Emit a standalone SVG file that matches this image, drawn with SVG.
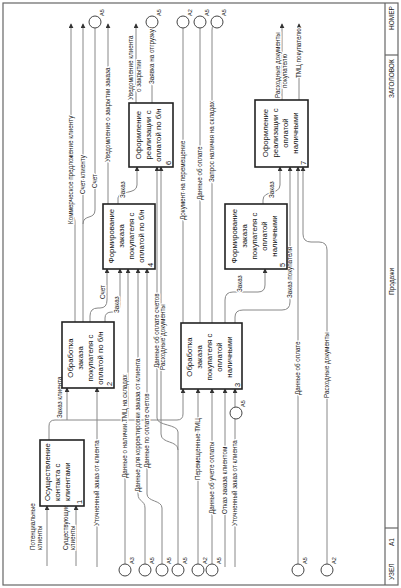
<svg xmlns="http://www.w3.org/2000/svg" width="401" height="588" viewBox="0 0 401 588">
<defs>
<marker id="ar" viewBox="0 0 6 6" refX="5" refY="3" markerWidth="5" markerHeight="5" orient="auto"><path d="M0,0 L6,3 L0,6 z" fill="#333"/></marker>
<style>
.frame{fill:none;stroke:#666;stroke-width:1.2}
.box{fill:#fff;stroke:#222;stroke-width:1.6}
.c{fill:none;stroke:#888;stroke-width:1}
.a{marker-end:url(#ar)}
.tun{fill:#fff;stroke:#444;stroke-width:1}
.bt{font-family:"Liberation Sans",Arial,sans-serif;font-size:7.8px;fill:#111}
.num{font-family:"Liberation Sans",Arial,sans-serif;font-size:7.5px;fill:#111}
.lb{font-family:"Liberation Sans",Arial,sans-serif;font-size:6.3px;fill:#222;stroke:#fff;stroke-width:2.5px;paint-order:stroke}
.ft{font-family:"Liberation Sans",Arial,sans-serif;font-size:6.5px;fill:#222}
.tl{font-family:"Liberation Sans",Arial,sans-serif;font-size:5.5px;fill:#222}
</style>
</defs>
<rect width="401" height="588" fill="#fff"/>
<g id="frame">
<rect class="frame" x="3" y="3" width="395" height="582"/>
<line class="frame" x1="385" y1="3" x2="385" y2="585"/>
<line class="frame" x1="385" y1="55" x2="398" y2="55"/>
<line class="frame" x1="385" y1="528" x2="398" y2="528"/>
<text class="ft" transform="translate(394,30) rotate(-90)">НОМЕР</text>
<text class="ft" transform="translate(394,98) rotate(-90)">ЗАГОЛОВОК</text>
<text class="ft" transform="translate(394,295) rotate(-90)">Продажи</text>
<text class="ft" transform="translate(394,546) rotate(-90)">A1</text>
<text class="ft" transform="translate(394,580) rotate(-90)">УЗЕЛ</text>
</g>
<g id="connectors">
<path class="c a" d="M47,566 V506"/>
<path class="c a" d="M76,566 V506"/>
<path class="c a" d="M49,440 V426 Q49,420 55,420 H177 Q183,420 183,414 V389"/>
<path class="c a" d="M67,420 V388"/>
<path class="c a" d="M97,567 V388"/>
<path class="c a" d="M75,322 V222 C75,216 71,216 71,210 V24"/>
<path class="c a" d="M83,322 V24"/>
<path class="c" d="M83,224 C83,214 95,220 95,210 V22"/>
<path class="c a" d="M90,322 V316 Q90,308 98,308 H100 Q107,308 107,300 V269"/>
<path class="c a" d="M105,322 V318 Q105,312 112,312 H113 Q120,312 120,305 V269"/>
<path class="c a" d="M108,204 V24"/>
<path class="c a" d="M118,204 V198 C118,190 137,195 137,185 V167"/>
<path class="c a" d="M136,103 V24"/>
<path class="c" d="M152,103 V22"/>
<path class="c a" d="M125,564 V430 C125,422 128,422 128,414 V269"/>
<path class="c a" d="M145,564 V508 C145,500 138,502 138,494 V269"/>
<path class="c a" d="M162,564 V508 C162,500 147,502 147,494 V269"/>
<path class="c a" d="M178,564 V432 C178,424 157,426 157,418 V167"/>
<path class="c a" d="M178,450 C178,440 161,444 161,434 V167"/>
<path class="c a" d="M198,564 V389"/>
<path class="c a" d="M212,564 V389"/>
<path class="c a" d="M225,567 V389"/>
<path class="c a" d="M235,567 V389"/>
<path class="c" d="M183,323 V22"/>
<path class="c" d="M200,323 V22"/>
<path class="c" d="M212,323 V30 Q212,24 217,22"/>
<path class="c a" d="M225,323 V300 Q225,292 233,292 H258 Q265,292 265,285 V269"/>
<path class="c a" d="M235,323 V317 Q235,310 243,310 H282 Q290,310 290,302 V167"/>
<path class="c a" d="M263,204 V200 C263,190 280,195 280,185 V167"/>
<path class="c a" d="M298,564 V167"/>
<path class="c a" d="M327,564 V250 Q327,242 319,242 H311 Q303,242 303,234 V167"/>
<path class="c a" d="M282,100 V24"/>
<path class="c a" d="M299,100 V24"/>
</g>
<g id="tunnels">
<circle class="tun" cx="95" cy="22" r="6"/>
<circle class="tun" cx="152" cy="22" r="6"/>
<circle class="tun" cx="183" cy="22" r="6"/>
<circle class="tun" cx="200" cy="22" r="6"/>
<circle class="tun" cx="217" cy="22" r="6"/>
<circle class="tun" cx="125" cy="570" r="6"/>
<circle class="tun" cx="145" cy="570" r="6"/>
<circle class="tun" cx="162" cy="570" r="6"/>
<circle class="tun" cx="178" cy="570" r="6"/>
<circle class="tun" cx="198" cy="570" r="6"/>
<circle class="tun" cx="212" cy="570" r="6"/>
<circle class="tun" cx="236" cy="413" r="6"/>
<circle class="tun" cx="298" cy="570" r="6"/>
<circle class="tun" cx="327" cy="570" r="6"/>
<text class="tl" transform="translate(104,16) rotate(-90)">A5</text>
<text class="tl" transform="translate(161,16) rotate(-90)">A5</text>
<text class="tl" transform="translate(192,16) rotate(-90)">A2</text>
<text class="tl" transform="translate(209,16) rotate(-90)">A5</text>
<text class="tl" transform="translate(226,16) rotate(-90)">A5</text>
<text class="tl" transform="translate(134,564) rotate(-90)">A3</text>
<text class="tl" transform="translate(154,564) rotate(-90)">A5</text>
<text class="tl" transform="translate(171,564) rotate(-90)">A5</text>
<text class="tl" transform="translate(187,564) rotate(-90)">A5</text>
<text class="tl" transform="translate(207,564) rotate(-90)">A2</text>
<text class="tl" transform="translate(221,564) rotate(-90)">A5</text>
<text class="tl" transform="translate(245,407) rotate(-90)">A5</text>
<text class="tl" transform="translate(307,564) rotate(-90)">A5</text>
<text class="tl" transform="translate(336,564) rotate(-90)">A2</text>
</g>
<g id="labels">
<text class="lb" transform="translate(35,550) rotate(-90)">Потенциальные</text>
<text class="lb" transform="translate(42,550) rotate(-90)">клиенты</text>
<text class="lb" transform="translate(68,550) rotate(-90)">Существующие</text>
<text class="lb" transform="translate(75,550) rotate(-90)">клиенты</text>
<text class="lb" transform="translate(62,418) rotate(-90)">Заказ клиента</text>
<text class="lb" transform="translate(99,526) rotate(-90)">Уточненный заказ от клиента</text>
<text class="lb" transform="translate(73,224) rotate(-90)">Коммерческое предложение клиенту</text>
<text class="lb" transform="translate(85,194) rotate(-90)">Счет клиенту</text>
<text class="lb" transform="translate(97,188) rotate(-90)">Счет</text>
<text class="lb" transform="translate(105,299) rotate(-90)">Счет</text>
<text class="lb" transform="translate(119,313) rotate(-90)">Заказ</text>
<text class="lb" transform="translate(110,162) rotate(-90)">Уведомление о закрытии заказа</text>
<text class="lb" transform="translate(125,198) rotate(-90)">Заказ</text>
<text class="lb" transform="translate(133,100) rotate(-90)">Уведомление клиента</text>
<text class="lb" transform="translate(141,92) rotate(-90)">о закрытии</text>
<text class="lb" transform="translate(154,84) rotate(-90)">Заявка на отгрузку</text>
<text class="lb" transform="translate(127,478) rotate(-90)">Данные о наличии ТМЦ на складах</text>
<text class="lb" transform="translate(140,492) rotate(-90)">Данные для корректировки заказа от клиента</text>
<text class="lb" transform="translate(149,468) rotate(-90)">Данные по оплате счетов</text>
<text class="lb" transform="translate(159,368) rotate(-90)">Данные об оплате счетов</text>
<text class="lb" transform="translate(165,370) rotate(-90)">Расходные документы</text>
<text class="lb" transform="translate(185,220) rotate(-90)">Документ на перемещение</text>
<text class="lb" transform="translate(202,200) rotate(-90)">Данные об оплате</text>
<text class="lb" transform="translate(214,182) rotate(-90)">Запрос наличия на складах</text>
<text class="lb" transform="translate(200,480) rotate(-90)">Перемещенные ТМЦ</text>
<text class="lb" transform="translate(214,514) rotate(-90)">Данные об учете оплаты</text>
<text class="lb" transform="translate(227,514) rotate(-90)">Отказ заказа клиентом</text>
<text class="lb" transform="translate(237,526) rotate(-90)">Уточненный заказ от клиента</text>
<text class="lb" transform="translate(242,292) rotate(-90)">Заказ</text>
<text class="lb" transform="translate(292,298) rotate(-90)">Заказ покупателя</text>
<text class="lb" transform="translate(274,198) rotate(-90)">Заказ</text>
<text class="lb" transform="translate(300,395) rotate(-90)">Данные об оплате</text>
<text class="lb" transform="translate(329,398) rotate(-90)">Расходные документы</text>
<text class="lb" transform="translate(280,98) rotate(-90)">Расходные документы</text>
<text class="lb" transform="translate(287,88) rotate(-90)">покупателю</text>
<text class="lb" transform="translate(301,78) rotate(-90)">ТМЦ покупателю</text>
</g>
<g id="node1">
<rect class="box" x="40" y="440" width="44" height="66"/>
<text class="bt" transform="translate(50,501) rotate(-90)">Осуществление</text>
<text class="bt" transform="translate(60,501) rotate(-90)">контакта с</text>
<text class="bt" transform="translate(70,501) rotate(-90)">клиентами</text>
<text class="num" transform="translate(82,504) rotate(-90)">1</text>
</g>
<g id="node2">
<rect class="box" x="62" y="322" width="52" height="66"/>
<text class="bt" text-anchor="middle" transform="translate(73,358) rotate(-90)">Обработка</text>
<text class="bt" text-anchor="middle" transform="translate(83,358) rotate(-90)">заказа</text>
<text class="bt" text-anchor="middle" transform="translate(93,358) rotate(-90)">покупателя с</text>
<text class="bt" text-anchor="middle" transform="translate(103,358) rotate(-90)">оплатой по б/н</text>
<text class="num" transform="translate(112,386) rotate(-90)">2</text>
</g>
<g id="node3">
<rect class="box" x="181" y="323" width="61" height="66"/>
<text class="bt" text-anchor="middle" transform="translate(192,357) rotate(-90)">Обработка</text>
<text class="bt" text-anchor="middle" transform="translate(202,357) rotate(-90)">заказа</text>
<text class="bt" text-anchor="middle" transform="translate(212,357) rotate(-90)">покупателя с</text>
<text class="bt" text-anchor="middle" transform="translate(222,357) rotate(-90)">оплатой</text>
<text class="bt" text-anchor="middle" transform="translate(232,357) rotate(-90)">наличными</text>
<text class="num" transform="translate(240,387) rotate(-90)">3</text>
</g>
<g id="node4">
<rect class="box" x="103" y="204" width="52" height="65"/>
<text class="bt" text-anchor="middle" transform="translate(114,236) rotate(-90)">Формирование</text>
<text class="bt" text-anchor="middle" transform="translate(124,236) rotate(-90)">заказа</text>
<text class="bt" text-anchor="middle" transform="translate(134,236) rotate(-90)">покупателя с</text>
<text class="bt" text-anchor="middle" transform="translate(144,236) rotate(-90)">оплатой по б/н</text>
<text class="num" transform="translate(153,267) rotate(-90)">4</text>
</g>
<g id="node5">
<rect class="box" x="225" y="204" width="62" height="65"/>
<text class="bt" text-anchor="middle" transform="translate(237,236) rotate(-90)">Формирование</text>
<text class="bt" text-anchor="middle" transform="translate(247,236) rotate(-90)">заказа</text>
<text class="bt" text-anchor="middle" transform="translate(257,236) rotate(-90)">покупателя с</text>
<text class="bt" text-anchor="middle" transform="translate(267,236) rotate(-90)">оплатой</text>
<text class="bt" text-anchor="middle" transform="translate(277,236) rotate(-90)">наличными</text>
<text class="num" transform="translate(285,267) rotate(-90)">5</text>
</g>
<g id="node6">
<rect class="box" x="129" y="103" width="44" height="64"/>
<text class="bt" text-anchor="middle" transform="translate(141,135) rotate(-90)">Оформление</text>
<text class="bt" text-anchor="middle" transform="translate(151,135) rotate(-90)">реализации с</text>
<text class="bt" text-anchor="middle" transform="translate(161,135) rotate(-90)">оплатой по б/н</text>
<text class="num" transform="translate(171,165) rotate(-90)">6</text>
</g>
<g id="node7">
<rect class="box" x="255" y="100" width="53" height="67"/>
<text class="bt" text-anchor="middle" transform="translate(268,133) rotate(-90)">Оформление</text>
<text class="bt" text-anchor="middle" transform="translate(278,133) rotate(-90)">реализации с</text>
<text class="bt" text-anchor="middle" transform="translate(288,133) rotate(-90)">оплатой</text>
<text class="bt" text-anchor="middle" transform="translate(298,133) rotate(-90)">наличными</text>
<text class="num" transform="translate(306,165) rotate(-90)">7</text>
</g>
</svg>
